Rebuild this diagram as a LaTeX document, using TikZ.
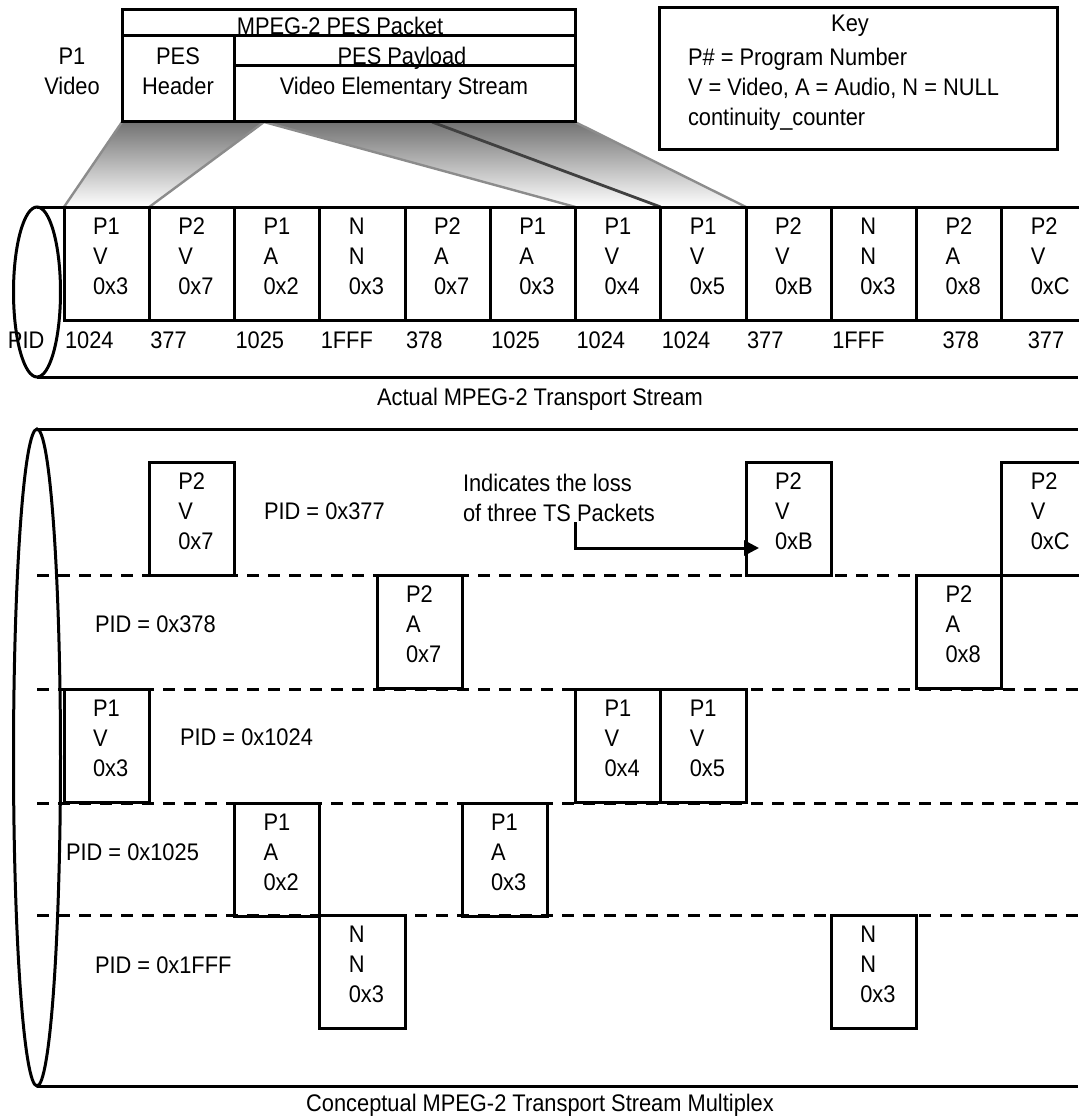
\documentclass[tikz,border=0pt]{standalone}
\usepackage{fontspec}
\setmainfont{Liberation Sans}[FakeStretch=0.91]
\usetikzlibrary{arrows.meta}
\pgfdeclarelayer{bg}
\pgfsetlayers{bg,main}
\tikzset{
	every node/.style={font=\fontsize{24}{30}\selectfont, inner sep=0pt, outer sep=0pt},
	pkt/.style={draw, line width=3pt, minimum width=85.25pt, minimum height=113.5pt, anchor=north west},
	pkttxt/.style={anchor=north west, align=left},
	lbl/.style={anchor=base west},
	ctr/.style={anchor=base},
	box/.style={draw, line width=3pt, anchor=north west},
	fanline/.style={draw=black!45, line width=2.4pt},
	tube/.style={line width=3pt},
	rowsep/.style={line width=3pt, dash pattern=on 12pt off 9pt},
	lossarrow/.style={line width=3pt, -{Triangle[length=15pt,width=15pt]}}
}
\def\tspkt[#1](#2,#3)#4{\node[pkt] (#1) at (#2,#3) {};
	\node[pkttxt] (#1txt) at ([xshift=29pt,yshift=-11pt]#1.north west) {#4};}

\begin{document}
\begin{tikzpicture}[x=1pt,y=-1pt]
			%%%%% START %%%%%
			\useasboundingbox (0,0) rectangle (1078,1118);
			
			% PES packet
			\node[box, minimum width=453pt, minimum height=26pt] (pestitle) at (122,10) {};
			\node[box, minimum width=112pt, minimum height=86pt] (peshdr) at (122,36) {};
			\node[box, minimum width=341pt, minimum height=30pt] (pespay) at (234,36) {};
			\node[box, minimum width=341pt, minimum height=56pt] (pesves) at (234,66) {};
			\node[ctr] (pestitletxt) at (340,35) {MPEG-2 PES Packet};
			\node[ctr] (pespaytxt) at (402,65) {PES Payload};
			\node[ctr] (pesvestxt) at (404,95) {Video Elementary Stream};
			\node[anchor=north, align=center] (peshdrtxt) at (178,48) {PES\\Header};
			\node[anchor=north, align=center] (p1video) at (72,48) {P1\\Video};
			
			% key
			\node[box, minimum width=398pt, minimum height=142pt] (keybox) at (659,8) {};
			\node[ctr] (keytitle) at (850,32) {Key};
			\node[anchor=north west, align=left] (keytxt) at (688,48) {P\# = Program Number\\V = Video, A = Audio, N = NULL\\continuity\_counter};
			
			% actual transport stream
			\draw[tube] (37,292) ellipse [x radius=23.5pt, y radius=85pt];
			\draw[tube] (37,207) -- (1078,207);
			\draw[tube] (37,377) -- (1078,377);
			
			\tspkt[top1](64,207){P1\\V\\0x3}
			\tspkt[top2](149.25,207){P2\\V\\0x7}
			\tspkt[top3](234.5,207){P1\\A\\0x2}
			\tspkt[top4](319.75,207){N\\N\\0x3}
			\tspkt[top5](405,207){P2\\A\\0x7}
			\tspkt[top6](490.25,207){P1\\A\\0x3}
			\tspkt[top7](575.5,207){P1\\V\\0x4}
			\tspkt[top8](660.75,207){P1\\V\\0x5}
			\tspkt[top9](746,207){P2\\V\\0xB}
			\tspkt[top10](831.25,207){N\\N\\0x3}
			\tspkt[top11](916.5,207){P2\\A\\0x8}
			\tspkt[top12](1001.75,207){P2\\V\\0xC}
			
			\node[lbl] (pidlbl) at (8,348) {PID};
			\node[lbl] (pid1) at ([xshift=1pt,yshift=-28pt]top1.south west) {1024};
			\node[lbl] (pid2) at ([xshift=1pt,yshift=-28pt]top2.south west) {377};
			\node[lbl] (pid3) at ([xshift=1pt,yshift=-28pt]top3.south west) {1025};
			\node[lbl] (pid4) at ([xshift=1pt,yshift=-28pt]top4.south west) {1FFF};
			\node[lbl] (pid5) at ([xshift=1pt,yshift=-28pt]top5.south west) {378};
			\node[lbl] (pid6) at ([xshift=1pt,yshift=-28pt]top6.south west) {1025};
			\node[lbl] (pid7) at ([xshift=1pt,yshift=-28pt]top7.south west) {1024};
			\node[lbl] (pid8) at ([xshift=1pt,yshift=-28pt]top8.south west) {1024};
			\node[lbl] (pid9) at ([xshift=1pt,yshift=-28pt]top9.south west) {377};
			\node[lbl] (pid10) at ([xshift=1pt,yshift=-28pt]top10.south west) {1FFF};
			\node[lbl] (pid11) at ([xshift=26pt,yshift=-28pt]top11.south west) {378};
			\node[lbl] (pid12) at ([xshift=26pt,yshift=-28pt]top12.south west) {377};
			
			\node[ctr] (actualtxt) at (540,405) {Actual MPEG-2 Transport Stream};
			
			% fan from PES packet down to TS packets
			\coordinate (fan) at (264,122);
			\coordinate (fandark) at (432,122);
			\begin{pgfonlayer}{bg}
				\shade[top color=black!55, bottom color=white] (peshdr.south west) -- (fan) -- (top2.north west) -- (top1.north west) -- cycle;
				\shade[top color=black!55, bottom color=white] (fan) -- (pesves.south east) -- (top9.north west) -- (top7.north west) -- cycle;
				\draw[fanline] (peshdr.south west) -- (top1.north west);
				\draw[fanline] (fan) -- (top2.north west);
				\draw[fanline] (fan) -- (top7.north west);
				\draw[fanline] (pesves.south east) -- (top9.north west);
				\draw[line width=2.8pt, black!75] (fandark) -- (top8.north west);
			\end{pgfonlayer}
			
			% conceptual multiplex
			\draw[tube] (37,757.5) ellipse [x radius=23.5pt, y radius=328.5pt];
			\draw[tube] (37,429) -- (1078,429);
			\draw[tube] (37,1086) -- (1078,1086);
			
			\draw[rowsep] (37,575) -- (1078,575);
			\draw[rowsep] (37,689) -- (1078,689);
			\draw[rowsep] (37,803) -- (1078,803);
			\draw[rowsep] (37,915) -- (1078,915);
			
			\tspkt[lb1](149.25,462){P2\\V\\0x7}
			\tspkt[lb2](746,462){P2\\V\\0xB}
			\tspkt[lb3](1001.75,462){P2\\V\\0xC}
			\tspkt[lb4](377,575){P2\\A\\0x7}
			\tspkt[lb5](916.5,575){P2\\A\\0x8}
			\tspkt[lb6](64,689){P1\\V\\0x3}
			\tspkt[lb7](575.5,689){P1\\V\\0x4}
			\tspkt[lb8](660.75,689){P1\\V\\0x5}
			\tspkt[lb9](234.5,803){P1\\A\\0x2}
			\tspkt[lb10](462,803){P1\\A\\0x3}
			\tspkt[lb11](319.75,915){N\\N\\0x3}
			\tspkt[lb12](831.25,915){N\\N\\0x3}
			
			\node[lbl] (pid377) at (264,519) {PID = 0x377};
			\node[lbl] (pid378) at (95,632) {PID = 0x378};
			\node[lbl] (pid1024) at (180,745) {PID = 0x1024};
			\node[lbl] (pid1025) at (66,860) {PID = 0x1025};
			\node[lbl] (pid1fff) at (95,973) {PID = 0x1FFF};
			
			\node[anchor=north west, align=left] (losstxt) at (463,474) {Indicates the loss\\of three TS Packets};
			\coordinate (losstop) at (575,522);
			\coordinate (losstip) at (759,548);
			\draw[lossarrow] (losstop) |- (losstip);
			
			\node[ctr] (concepttxt) at (540,1111) {Conceptual MPEG-2 Transport Stream Multiplex};
			%%%%% END %%%%%
\end{tikzpicture}
\end{document}
